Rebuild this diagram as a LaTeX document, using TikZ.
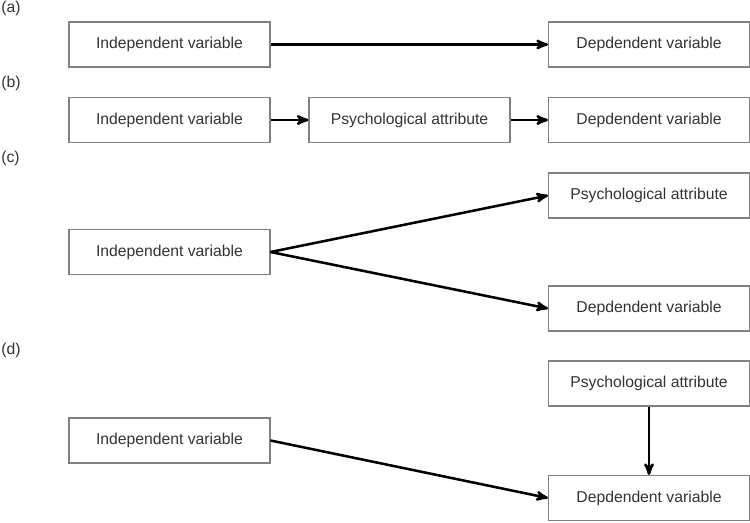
\documentclass[tikz,border=0pt]{standalone}
\usepackage{fontspec}
\setmainfont{Liberation Sans}
\usetikzlibrary{arrows}

\definecolor{boxgray}{HTML}{808080}
\definecolor{textgray}{HTML}{333333}

\begin{document}
\begin{tikzpicture}[x=0.75pt, y=-0.75pt,
  varbox/.style={draw=boxgray, line width=0.8pt, minimum width=150.75pt, minimum height=33.75pt,
                 inner sep=0pt, text=textgray, font=\fontsize{11.8}{14}\selectfont},
  panel/.style={anchor=west, text=textgray, inner sep=0pt, font=\fontsize{11.8}{14}\selectfont},
  link/.style={black, line width=1.9pt, ->, >=stealth'}]
\useasboundingbox (0,0) rectangle (750,522);

% (a)
\node[panel] (la) at (1,8) {(a)};
\node[varbox] (ivA) at (169.5,44.5) {Independent variable};
\node[varbox] (dvA) at (649,44.5) {Depdendent variable};
\draw[link] (ivA.east)--(dvA.west);

% (b)
\node[panel] (lb) at (1,83) {(b)};
\node[varbox] (ivB) at (169.5,120) {Independent variable};
\node[varbox] (paB) at (409.5,120) {Psychological attribute};
\node[varbox] (dvB) at (649,120) {Depdendent variable};
\draw[link] (ivB.east)--(paB.west);
\draw[link] (paB.east)--(dvB.west);

% (c)
\node[panel] (lc) at (1,158) {(c)};
\node[varbox] (ivC) at (169.5,252) {Independent variable};
\node[varbox] (paC) at (649,195.5) {Psychological attribute};
\node[varbox] (dvC) at (649,308.5) {Depdendent variable};
\draw[link] (ivC.east)--(paC.west);
\draw[link] (ivC.east)--(dvC.west);

% (d)
\node[panel] (ld) at (1,350) {(d)};
\node[varbox] (paD) at (649,383.5) {Psychological attribute};
\node[varbox] (ivD) at (169.5,440.5) {Independent variable};
\node[varbox] (dvD) at (649,498) {Depdendent variable};
\draw[link] (ivD.east)--(dvD.west);
\draw[link] (paD.south)--(dvD.north);
\end{tikzpicture}
\end{document}
